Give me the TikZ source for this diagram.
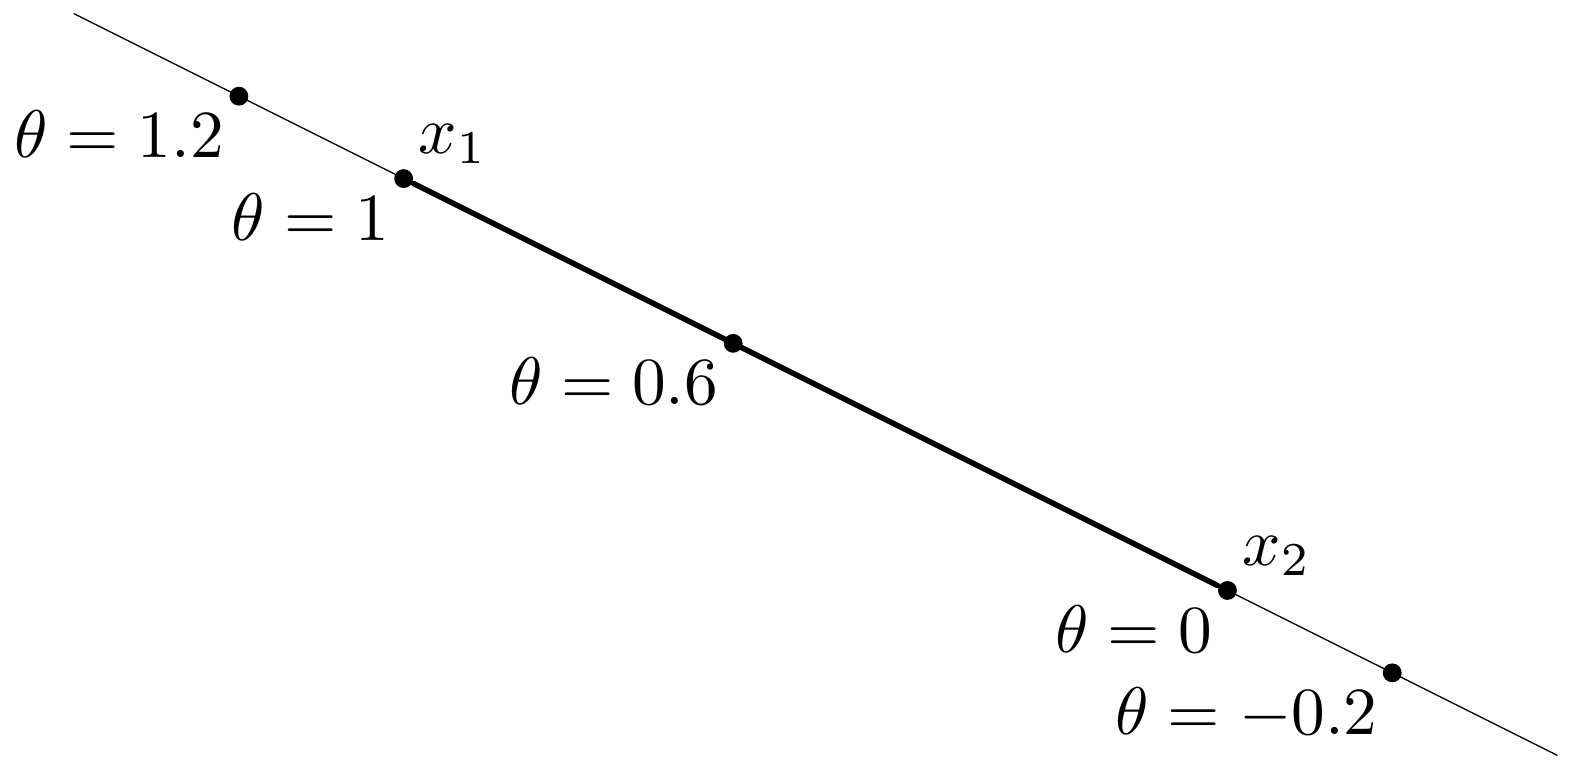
\documentclass[tikz,border=0pt]{standalone}
\usepackage{amsmath,amssymb}
\usetikzlibrary{positioning}

\tikzset{
  pt/.style={circle,fill=black,inner sep=0pt,minimum size=2.8pt},
  lab/.style={inner sep=2pt},
}

\begin{document}
\begin{tikzpicture}[line cap=round,line join=round,x=1.075cm,y=1.075cm]
      \useasboundingbox (-2.107cm,-0.978cm) rectangle (6.182cm,3.082cm);
      % the line theta*x1 + (1-theta)*x2
      \coordinate (a) at (-1.6,2.8);
      \coordinate (b) at (5.6,-0.8);
      \node[pt] (t12) at (-0.8,2.4) {};
      \node[pt] (x1) at (0,2) {};
      \node[pt] (t06) at (1.6,1.2) {};
      \node[pt] (x2) at (4,0) {};
      \node[pt] (tm02) at (4.8,-0.4) {};

      \draw[very thin] (a) -- (x1.center);
      \draw[very thin] (x2.center) -- (b);
      \draw[thick] (x1) -- (x2);

      \node[lab,below left] (l12) at (t12) {$\theta = 1.2$};
      \node[lab,below left] (l1) at (x1) {$\theta = 1$};
      \node[lab,above right] (lx1) at (x1) {$x_1$};
      \node[lab,below left] (l06) at (t06) {$\theta = 0.6$};
      \node[lab,below left] (l0) at (x2) {$\theta = 0$};
      \node[lab,above right] (lx2) at (x2) {$x_2$};
      \node[lab,below left] (lm02) at (tm02) {$\theta = -0.2$};
    \end{tikzpicture}
\end{document}
